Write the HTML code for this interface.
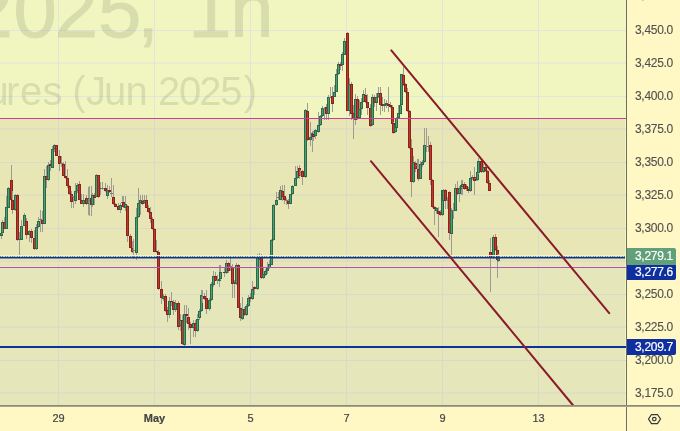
<!DOCTYPE html>
<html><head><meta charset="utf-8"><style>
html,body{margin:0;padding:0;background:#fff8c5;}
body{width:680px;height:431px;overflow:hidden;}
svg{display:block;}
</style></head><body>
<svg width="680" height="431" viewBox="0 0 680 431" shape-rendering="crispEdges" style="will-change:transform">
<rect x="0" y="0" width="680" height="431" fill="#fff8c5"/>
<rect x="0" y="0" width="626" height="405" fill="#f1f6c1"/>
<rect x="0" y="119" width="625" height="148" fill="#e8e6b4"/>
<rect x="0" y="268" width="625" height="137" fill="#e5e6ba"/>
<rect x="0" y="30" width="626" height="1" fill="#dfe6da"/>
<rect x="0" y="62" width="626" height="1" fill="#dfe6da" opacity="0.45"/>
<rect x="0" y="63" width="626" height="1" fill="#dfe6da" opacity="0.65"/>
<rect x="0" y="96" width="626" height="1" fill="#dfe6da"/>
<rect x="0" y="128" width="626" height="1" fill="#dadac8" opacity="0.45"/>
<rect x="0" y="129" width="626" height="1" fill="#dadac8" opacity="0.65"/>
<rect x="0" y="162" width="626" height="1" fill="#dadac8"/>
<rect x="0" y="194" width="626" height="1" fill="#dadac8" opacity="0.45"/>
<rect x="0" y="195" width="626" height="1" fill="#dadac8" opacity="0.65"/>
<rect x="0" y="228" width="626" height="1" fill="#dadac8"/>
<rect x="0" y="260" width="626" height="1" fill="#dadac8" opacity="0.45"/>
<rect x="0" y="261" width="626" height="1" fill="#dadac8" opacity="0.65"/>
<rect x="0" y="294" width="626" height="1" fill="#dadac8"/>
<rect x="0" y="326" width="626" height="1" fill="#dadac8" opacity="0.45"/>
<rect x="0" y="327" width="626" height="1" fill="#dadac8" opacity="0.65"/>
<rect x="0" y="360" width="626" height="1" fill="#dadac8"/>
<rect x="0" y="392" width="626" height="1" fill="#dadac8" opacity="0.45"/>
<rect x="0" y="393" width="626" height="1" fill="#dadac8" opacity="0.65"/>
<rect x="58" y="0" width="1" height="118" fill="#dfe6da"/>
<rect x="58" y="119" width="1" height="148" fill="#dadac8"/>
<rect x="58" y="268" width="1" height="137" fill="#dadac8"/>
<rect x="154" y="0" width="1" height="118" fill="#dfe6da"/>
<rect x="154" y="119" width="1" height="148" fill="#dadac8"/>
<rect x="154" y="268" width="1" height="137" fill="#dadac8"/>
<rect x="250" y="0" width="1" height="118" fill="#dfe6da"/>
<rect x="250" y="119" width="1" height="148" fill="#dadac8"/>
<rect x="250" y="268" width="1" height="137" fill="#dadac8"/>
<rect x="346" y="0" width="1" height="118" fill="#dfe6da"/>
<rect x="346" y="119" width="1" height="148" fill="#dadac8"/>
<rect x="346" y="268" width="1" height="137" fill="#dadac8"/>
<rect x="442" y="0" width="1" height="118" fill="#dfe6da"/>
<rect x="442" y="119" width="1" height="148" fill="#dadac8"/>
<rect x="442" y="268" width="1" height="137" fill="#dadac8"/>
<rect x="538" y="0" width="1" height="118" fill="#dfe6da"/>
<rect x="538" y="119" width="1" height="148" fill="#dadac8"/>
<rect x="538" y="268" width="1" height="137" fill="#dadac8"/>
<g opacity="0.27" fill="rgb(150,156,122)" font-family="Liberation Sans, sans-serif" shape-rendering="auto">
<text x="-212.5 -151.8 -95.5 -30.5 13.45 54.8 97.9 137.3 159 188.3 230.2" y="36.5" font-size="78" stroke="rgb(150,156,122)" stroke-width="0.9">GCM2025, 1h</text>
<text x="-166.8 -135.7 -113.5 -104.6 -82.4 -71.3 -46.9 -24.7 -13.6 5.94 20.1 42.6 62.6 72.3 86 103.9 125.6 147.8 158.1 179.1 199.3 220.3 243.8" y="105" font-size="40">Gold Futures (Jun 2025)</text>
</g>
<rect x="1" y="230" width="1" height="9" fill="#9c9c90"/>
<rect x="0" y="233" width="3" height="3" fill="#2a6a48"/>
<rect x="1" y="234" width="1" height="1" fill="#4f9d74"/>
<rect x="2" y="220" width="1" height="14" fill="#9c9c90"/>
<rect x="1" y="222" width="3" height="11" fill="#2a6a48"/>
<rect x="2" y="223" width="1" height="9" fill="#4f9d74"/>
<rect x="4" y="217" width="1" height="12" fill="#9c9c90"/>
<rect x="3" y="222" width="3" height="7" fill="#8c2219"/>
<rect x="4" y="223" width="1" height="5" fill="#bb3a2e"/>
<rect x="6" y="196" width="1" height="33" fill="#9c9c90"/>
<rect x="5" y="207" width="3" height="22" fill="#2a6a48"/>
<rect x="6" y="208" width="1" height="20" fill="#4f9d74"/>
<rect x="8" y="187" width="1" height="21" fill="#9c9c90"/>
<rect x="7" y="188" width="3" height="20" fill="#2a6a48"/>
<rect x="8" y="189" width="1" height="18" fill="#4f9d74"/>
<rect x="11" y="165" width="1" height="36" fill="#9c9c90"/>
<rect x="10" y="180" width="3" height="20" fill="#8c2219"/>
<rect x="11" y="181" width="1" height="18" fill="#bb3a2e"/>
<rect x="12" y="191" width="1" height="23" fill="#9c9c90"/>
<rect x="11" y="200" width="3" height="10" fill="#8c2219"/>
<rect x="12" y="201" width="1" height="8" fill="#bb3a2e"/>
<rect x="15" y="194" width="1" height="17" fill="#9c9c90"/>
<rect x="14" y="195" width="3" height="15" fill="#2a6a48"/>
<rect x="15" y="196" width="1" height="13" fill="#4f9d74"/>
<rect x="17" y="194" width="1" height="47" fill="#9c9c90"/>
<rect x="16" y="195" width="3" height="45" fill="#8c2219"/>
<rect x="17" y="196" width="1" height="43" fill="#bb3a2e"/>
<rect x="19" y="232" width="1" height="23" fill="#9c9c90"/>
<rect x="18" y="239" width="3" height="1" fill="#2a6a48"/>
<rect x="21" y="220" width="1" height="20" fill="#9c9c90"/>
<rect x="20" y="226" width="3" height="14" fill="#2a6a48"/>
<rect x="21" y="227" width="1" height="12" fill="#4f9d74"/>
<rect x="24" y="213" width="1" height="13" fill="#9c9c90"/>
<rect x="23" y="215" width="3" height="11" fill="#2a6a48"/>
<rect x="24" y="216" width="1" height="9" fill="#4f9d74"/>
<rect x="26" y="218" width="1" height="21" fill="#9c9c90"/>
<rect x="25" y="221" width="3" height="14" fill="#8c2219"/>
<rect x="26" y="222" width="1" height="12" fill="#bb3a2e"/>
<rect x="29" y="230" width="1" height="12" fill="#9c9c90"/>
<rect x="28" y="231" width="3" height="4" fill="#2a6a48"/>
<rect x="29" y="232" width="1" height="2" fill="#4f9d74"/>
<rect x="31" y="229" width="1" height="14" fill="#9c9c90"/>
<rect x="30" y="231" width="3" height="7" fill="#8c2219"/>
<rect x="31" y="232" width="1" height="5" fill="#bb3a2e"/>
<rect x="34" y="230" width="1" height="20" fill="#9c9c90"/>
<rect x="33" y="238" width="3" height="11" fill="#8c2219"/>
<rect x="34" y="239" width="1" height="9" fill="#bb3a2e"/>
<rect x="36" y="224" width="1" height="26" fill="#9c9c90"/>
<rect x="35" y="227" width="3" height="22" fill="#2a6a48"/>
<rect x="36" y="228" width="1" height="20" fill="#4f9d74"/>
<rect x="38" y="217" width="1" height="11" fill="#9c9c90"/>
<rect x="37" y="221" width="3" height="6" fill="#2a6a48"/>
<rect x="38" y="222" width="1" height="4" fill="#4f9d74"/>
<rect x="40" y="210" width="1" height="22" fill="#9c9c90"/>
<rect x="39" y="219" width="3" height="1" fill="#7a7a70"/>
<rect x="42" y="211" width="1" height="21" fill="#9c9c90"/>
<rect x="41" y="220" width="3" height="4" fill="#8c2219"/>
<rect x="42" y="221" width="1" height="2" fill="#bb3a2e"/>
<rect x="44" y="169" width="1" height="55" fill="#9c9c90"/>
<rect x="43" y="176" width="3" height="48" fill="#2a6a48"/>
<rect x="44" y="177" width="1" height="46" fill="#4f9d74"/>
<rect x="46" y="166" width="1" height="22" fill="#9c9c90"/>
<rect x="45" y="176" width="3" height="4" fill="#8c2219"/>
<rect x="46" y="177" width="1" height="2" fill="#bb3a2e"/>
<rect x="48" y="162" width="1" height="19" fill="#9c9c90"/>
<rect x="47" y="165" width="3" height="15" fill="#2a6a48"/>
<rect x="48" y="166" width="1" height="13" fill="#4f9d74"/>
<rect x="50" y="160" width="1" height="11" fill="#9c9c90"/>
<rect x="49" y="164" width="3" height="2" fill="#8c2219"/>
<rect x="52" y="146" width="1" height="22" fill="#9c9c90"/>
<rect x="51" y="149" width="3" height="19" fill="#2a6a48"/>
<rect x="52" y="150" width="1" height="17" fill="#4f9d74"/>
<rect x="54" y="144" width="1" height="8" fill="#9c9c90"/>
<rect x="53" y="145" width="3" height="4" fill="#2a6a48"/>
<rect x="54" y="146" width="1" height="2" fill="#4f9d74"/>
<rect x="56" y="145" width="1" height="11" fill="#9c9c90"/>
<rect x="55" y="145" width="3" height="11" fill="#8c2219"/>
<rect x="56" y="146" width="1" height="9" fill="#bb3a2e"/>
<rect x="59" y="150" width="1" height="21" fill="#9c9c90"/>
<rect x="58" y="156" width="3" height="8" fill="#8c2219"/>
<rect x="59" y="157" width="1" height="6" fill="#bb3a2e"/>
<rect x="61" y="156" width="1" height="11" fill="#9c9c90"/>
<rect x="60" y="163" width="3" height="1" fill="#7a7a70"/>
<rect x="63" y="162" width="1" height="14" fill="#9c9c90"/>
<rect x="62" y="164" width="3" height="12" fill="#8c2219"/>
<rect x="63" y="165" width="1" height="10" fill="#bb3a2e"/>
<rect x="65" y="161" width="1" height="18" fill="#9c9c90"/>
<rect x="64" y="176" width="3" height="2" fill="#8c2219"/>
<rect x="67" y="169" width="1" height="19" fill="#9c9c90"/>
<rect x="66" y="178" width="3" height="8" fill="#8c2219"/>
<rect x="67" y="179" width="1" height="6" fill="#bb3a2e"/>
<rect x="69" y="185" width="1" height="10" fill="#9c9c90"/>
<rect x="68" y="186" width="3" height="8" fill="#8c2219"/>
<rect x="69" y="187" width="1" height="6" fill="#bb3a2e"/>
<rect x="71" y="191" width="1" height="17" fill="#9c9c90"/>
<rect x="70" y="194" width="3" height="8" fill="#8c2219"/>
<rect x="71" y="195" width="1" height="6" fill="#bb3a2e"/>
<rect x="73" y="196" width="1" height="12" fill="#9c9c90"/>
<rect x="72" y="196" width="3" height="1" fill="#7a7a70"/>
<rect x="75" y="183" width="1" height="21" fill="#9c9c90"/>
<rect x="74" y="191" width="3" height="10" fill="#2a6a48"/>
<rect x="75" y="192" width="1" height="8" fill="#4f9d74"/>
<rect x="77" y="183" width="1" height="10" fill="#9c9c90"/>
<rect x="76" y="185" width="3" height="6" fill="#2a6a48"/>
<rect x="77" y="186" width="1" height="4" fill="#4f9d74"/>
<rect x="79" y="181" width="1" height="19" fill="#9c9c90"/>
<rect x="78" y="184" width="3" height="16" fill="#8c2219"/>
<rect x="79" y="185" width="1" height="14" fill="#bb3a2e"/>
<rect x="81" y="194" width="1" height="10" fill="#9c9c90"/>
<rect x="80" y="200" width="3" height="4" fill="#8c2219"/>
<rect x="81" y="201" width="1" height="2" fill="#bb3a2e"/>
<rect x="83" y="194" width="1" height="13" fill="#9c9c90"/>
<rect x="82" y="200" width="3" height="4" fill="#2a6a48"/>
<rect x="83" y="201" width="1" height="2" fill="#4f9d74"/>
<rect x="86" y="195" width="1" height="10" fill="#9c9c90"/>
<rect x="85" y="198" width="3" height="6" fill="#8c2219"/>
<rect x="86" y="199" width="1" height="4" fill="#bb3a2e"/>
<rect x="88" y="187" width="1" height="28" fill="#9c9c90"/>
<rect x="87" y="198" width="3" height="6" fill="#2a6a48"/>
<rect x="88" y="199" width="1" height="4" fill="#4f9d74"/>
<rect x="89" y="186" width="1" height="30" fill="#9c9c90"/>
<rect x="88" y="200" width="3" height="1" fill="#7a7a70"/>
<rect x="91" y="186" width="1" height="30" fill="#9c9c90"/>
<rect x="90" y="198" width="3" height="7" fill="#8c2219"/>
<rect x="91" y="199" width="1" height="5" fill="#bb3a2e"/>
<rect x="92" y="193" width="1" height="14" fill="#9c9c90"/>
<rect x="91" y="195" width="3" height="10" fill="#2a6a48"/>
<rect x="92" y="196" width="1" height="8" fill="#4f9d74"/>
<rect x="94" y="193" width="1" height="12" fill="#9c9c90"/>
<rect x="93" y="195" width="3" height="3" fill="#8c2219"/>
<rect x="94" y="196" width="1" height="1" fill="#bb3a2e"/>
<rect x="96" y="174" width="1" height="23" fill="#9c9c90"/>
<rect x="95" y="175" width="3" height="22" fill="#2a6a48"/>
<rect x="96" y="176" width="1" height="20" fill="#4f9d74"/>
<rect x="98" y="175" width="1" height="23" fill="#9c9c90"/>
<rect x="97" y="175" width="3" height="22" fill="#8c2219"/>
<rect x="98" y="176" width="1" height="20" fill="#bb3a2e"/>
<rect x="100" y="182" width="1" height="13" fill="#9c9c90"/>
<rect x="99" y="188" width="3" height="1" fill="#2a6a48"/>
<rect x="102" y="182" width="1" height="8" fill="#9c9c90"/>
<rect x="101" y="188" width="3" height="1" fill="#7a7a70"/>
<rect x="105" y="183" width="1" height="9" fill="#9c9c90"/>
<rect x="104" y="188" width="3" height="3" fill="#8c2219"/>
<rect x="105" y="189" width="1" height="1" fill="#bb3a2e"/>
<rect x="107" y="185" width="1" height="14" fill="#9c9c90"/>
<rect x="106" y="190" width="3" height="6" fill="#2a6a48"/>
<rect x="107" y="191" width="1" height="4" fill="#4f9d74"/>
<rect x="109" y="186" width="1" height="7" fill="#9c9c90"/>
<rect x="108" y="190" width="3" height="2" fill="#8c2219"/>
<rect x="111" y="178" width="1" height="19" fill="#9c9c90"/>
<rect x="110" y="193" width="3" height="1" fill="#7a7a70"/>
<rect x="113" y="185" width="1" height="20" fill="#9c9c90"/>
<rect x="112" y="197" width="3" height="7" fill="#8c2219"/>
<rect x="113" y="198" width="1" height="5" fill="#bb3a2e"/>
<rect x="115" y="203" width="1" height="4" fill="#9c9c90"/>
<rect x="114" y="204" width="3" height="3" fill="#8c2219"/>
<rect x="115" y="205" width="1" height="1" fill="#bb3a2e"/>
<rect x="118" y="203" width="1" height="7" fill="#9c9c90"/>
<rect x="117" y="206" width="3" height="4" fill="#8c2219"/>
<rect x="118" y="207" width="1" height="2" fill="#bb3a2e"/>
<rect x="120" y="203" width="1" height="10" fill="#9c9c90"/>
<rect x="119" y="205" width="3" height="5" fill="#2a6a48"/>
<rect x="120" y="206" width="1" height="3" fill="#4f9d74"/>
<rect x="122" y="196" width="1" height="8" fill="#9c9c90"/>
<rect x="121" y="202" width="3" height="1" fill="#7a7a70"/>
<rect x="123" y="196" width="1" height="12" fill="#9c9c90"/>
<rect x="122" y="202" width="3" height="5" fill="#8c2219"/>
<rect x="123" y="203" width="1" height="3" fill="#bb3a2e"/>
<rect x="125" y="196" width="1" height="15" fill="#9c9c90"/>
<rect x="124" y="204" width="3" height="4" fill="#2a6a48"/>
<rect x="125" y="205" width="1" height="2" fill="#4f9d74"/>
<rect x="127" y="205" width="1" height="37" fill="#9c9c90"/>
<rect x="126" y="206" width="3" height="30" fill="#8c2219"/>
<rect x="127" y="207" width="1" height="28" fill="#bb3a2e"/>
<rect x="130" y="234" width="1" height="14" fill="#9c9c90"/>
<rect x="129" y="236" width="3" height="12" fill="#8c2219"/>
<rect x="130" y="237" width="1" height="10" fill="#bb3a2e"/>
<rect x="132" y="241" width="1" height="12" fill="#9c9c90"/>
<rect x="131" y="248" width="3" height="4" fill="#8c2219"/>
<rect x="132" y="249" width="1" height="2" fill="#bb3a2e"/>
<rect x="133" y="239" width="1" height="20" fill="#9c9c90"/>
<rect x="132" y="250" width="3" height="1" fill="#7a7a70"/>
<rect x="136" y="208" width="1" height="52" fill="#9c9c90"/>
<rect x="135" y="217" width="3" height="36" fill="#2a6a48"/>
<rect x="136" y="218" width="1" height="34" fill="#4f9d74"/>
<rect x="138" y="188" width="1" height="30" fill="#9c9c90"/>
<rect x="137" y="203" width="3" height="14" fill="#2a6a48"/>
<rect x="138" y="204" width="1" height="12" fill="#4f9d74"/>
<rect x="140" y="195" width="1" height="20" fill="#9c9c90"/>
<rect x="139" y="200" width="3" height="3" fill="#2a6a48"/>
<rect x="140" y="201" width="1" height="1" fill="#4f9d74"/>
<rect x="142" y="195" width="1" height="10" fill="#9c9c90"/>
<rect x="141" y="201" width="3" height="3" fill="#8c2219"/>
<rect x="142" y="202" width="1" height="1" fill="#bb3a2e"/>
<rect x="144" y="195" width="1" height="9" fill="#9c9c90"/>
<rect x="143" y="200" width="3" height="3" fill="#2a6a48"/>
<rect x="144" y="201" width="1" height="1" fill="#4f9d74"/>
<rect x="146" y="195" width="1" height="13" fill="#9c9c90"/>
<rect x="145" y="200" width="3" height="8" fill="#8c2219"/>
<rect x="146" y="201" width="1" height="6" fill="#bb3a2e"/>
<rect x="148" y="205" width="1" height="8" fill="#9c9c90"/>
<rect x="147" y="208" width="3" height="4" fill="#8c2219"/>
<rect x="148" y="209" width="1" height="2" fill="#bb3a2e"/>
<rect x="150" y="207" width="1" height="16" fill="#9c9c90"/>
<rect x="149" y="212" width="3" height="7" fill="#8c2219"/>
<rect x="150" y="213" width="1" height="5" fill="#bb3a2e"/>
<rect x="152" y="217" width="1" height="13" fill="#9c9c90"/>
<rect x="151" y="219" width="3" height="10" fill="#8c2219"/>
<rect x="152" y="220" width="1" height="8" fill="#bb3a2e"/>
<rect x="154" y="228" width="1" height="24" fill="#9c9c90"/>
<rect x="153" y="229" width="3" height="23" fill="#8c2219"/>
<rect x="154" y="230" width="1" height="21" fill="#bb3a2e"/>
<rect x="156" y="240" width="1" height="13" fill="#9c9c90"/>
<rect x="155" y="251" width="3" height="1" fill="#8c2219"/>
<rect x="158" y="250" width="1" height="40" fill="#9c9c90"/>
<rect x="157" y="252" width="3" height="37" fill="#8c2219"/>
<rect x="158" y="253" width="1" height="35" fill="#bb3a2e"/>
<rect x="161" y="281" width="1" height="23" fill="#9c9c90"/>
<rect x="160" y="289" width="3" height="9" fill="#8c2219"/>
<rect x="161" y="290" width="1" height="7" fill="#bb3a2e"/>
<rect x="163" y="294" width="1" height="7" fill="#9c9c90"/>
<rect x="162" y="296" width="3" height="3" fill="#2a6a48"/>
<rect x="163" y="297" width="1" height="1" fill="#4f9d74"/>
<rect x="165" y="294" width="1" height="18" fill="#9c9c90"/>
<rect x="164" y="296" width="3" height="15" fill="#8c2219"/>
<rect x="165" y="297" width="1" height="13" fill="#bb3a2e"/>
<rect x="167" y="307" width="1" height="15" fill="#9c9c90"/>
<rect x="166" y="310" width="3" height="5" fill="#8c2219"/>
<rect x="167" y="311" width="1" height="3" fill="#bb3a2e"/>
<rect x="169" y="297" width="1" height="21" fill="#9c9c90"/>
<rect x="168" y="301" width="3" height="14" fill="#2a6a48"/>
<rect x="169" y="302" width="1" height="12" fill="#4f9d74"/>
<rect x="171" y="292" width="1" height="14" fill="#9c9c90"/>
<rect x="170" y="301" width="3" height="1" fill="#8c2219"/>
<rect x="173" y="300" width="1" height="15" fill="#9c9c90"/>
<rect x="172" y="302" width="3" height="8" fill="#8c2219"/>
<rect x="173" y="303" width="1" height="6" fill="#bb3a2e"/>
<rect x="175" y="300" width="1" height="12" fill="#9c9c90"/>
<rect x="174" y="303" width="3" height="7" fill="#2a6a48"/>
<rect x="175" y="304" width="1" height="5" fill="#4f9d74"/>
<rect x="178" y="301" width="1" height="29" fill="#9c9c90"/>
<rect x="177" y="303" width="3" height="24" fill="#8c2219"/>
<rect x="178" y="304" width="1" height="22" fill="#bb3a2e"/>
<rect x="180" y="314" width="1" height="17" fill="#9c9c90"/>
<rect x="179" y="320" width="3" height="6" fill="#2a6a48"/>
<rect x="180" y="321" width="1" height="4" fill="#4f9d74"/>
<rect x="182" y="315" width="1" height="30" fill="#9c9c90"/>
<rect x="181" y="320" width="3" height="24" fill="#8c2219"/>
<rect x="182" y="321" width="1" height="22" fill="#bb3a2e"/>
<rect x="184" y="305" width="1" height="41" fill="#9c9c90"/>
<rect x="183" y="314" width="3" height="31" fill="#2a6a48"/>
<rect x="184" y="315" width="1" height="29" fill="#4f9d74"/>
<rect x="186" y="305" width="1" height="18" fill="#9c9c90"/>
<rect x="185" y="314" width="3" height="2" fill="#8c2219"/>
<rect x="188" y="308" width="1" height="22" fill="#9c9c90"/>
<rect x="187" y="317" width="3" height="7" fill="#8c2219"/>
<rect x="188" y="318" width="1" height="5" fill="#bb3a2e"/>
<rect x="190" y="322" width="1" height="22" fill="#9c9c90"/>
<rect x="189" y="324" width="3" height="4" fill="#8c2219"/>
<rect x="190" y="325" width="1" height="2" fill="#bb3a2e"/>
<rect x="193" y="320" width="1" height="17" fill="#9c9c90"/>
<rect x="192" y="323" width="3" height="5" fill="#2a6a48"/>
<rect x="193" y="324" width="1" height="3" fill="#4f9d74"/>
<rect x="195" y="320" width="1" height="17" fill="#9c9c90"/>
<rect x="194" y="323" width="3" height="8" fill="#8c2219"/>
<rect x="195" y="324" width="1" height="6" fill="#bb3a2e"/>
<rect x="197" y="314" width="1" height="18" fill="#9c9c90"/>
<rect x="196" y="319" width="3" height="12" fill="#2a6a48"/>
<rect x="197" y="320" width="1" height="10" fill="#4f9d74"/>
<rect x="199" y="309" width="1" height="11" fill="#9c9c90"/>
<rect x="198" y="311" width="3" height="7" fill="#2a6a48"/>
<rect x="199" y="312" width="1" height="5" fill="#4f9d74"/>
<rect x="201" y="290" width="1" height="22" fill="#9c9c90"/>
<rect x="200" y="295" width="3" height="16" fill="#2a6a48"/>
<rect x="201" y="296" width="1" height="14" fill="#4f9d74"/>
<rect x="202" y="290" width="1" height="13" fill="#9c9c90"/>
<rect x="201" y="296" width="3" height="1" fill="#7a7a70"/>
<rect x="204" y="293" width="1" height="7" fill="#9c9c90"/>
<rect x="203" y="296" width="3" height="3" fill="#8c2219"/>
<rect x="204" y="297" width="1" height="1" fill="#bb3a2e"/>
<rect x="206" y="290" width="1" height="24" fill="#9c9c90"/>
<rect x="205" y="298" width="3" height="11" fill="#8c2219"/>
<rect x="206" y="299" width="1" height="9" fill="#bb3a2e"/>
<rect x="209" y="298" width="1" height="13" fill="#9c9c90"/>
<rect x="208" y="300" width="3" height="9" fill="#2a6a48"/>
<rect x="209" y="301" width="1" height="7" fill="#4f9d74"/>
<rect x="211" y="282" width="1" height="19" fill="#9c9c90"/>
<rect x="210" y="284" width="3" height="16" fill="#2a6a48"/>
<rect x="211" y="285" width="1" height="14" fill="#4f9d74"/>
<rect x="213" y="271" width="1" height="16" fill="#9c9c90"/>
<rect x="212" y="276" width="3" height="9" fill="#2a6a48"/>
<rect x="213" y="277" width="1" height="7" fill="#4f9d74"/>
<rect x="215" y="272" width="1" height="9" fill="#9c9c90"/>
<rect x="214" y="276" width="3" height="5" fill="#8c2219"/>
<rect x="215" y="277" width="1" height="3" fill="#bb3a2e"/>
<rect x="217" y="275" width="1" height="9" fill="#9c9c90"/>
<rect x="216" y="280" width="3" height="1" fill="#7a7a70"/>
<rect x="219" y="265" width="1" height="22" fill="#9c9c90"/>
<rect x="218" y="279" width="3" height="2" fill="#2a6a48"/>
<rect x="220" y="265" width="1" height="15" fill="#9c9c90"/>
<rect x="219" y="272" width="3" height="7" fill="#2a6a48"/>
<rect x="220" y="273" width="1" height="5" fill="#4f9d74"/>
<rect x="224" y="267" width="1" height="10" fill="#9c9c90"/>
<rect x="223" y="272" width="3" height="1" fill="#8c2219"/>
<rect x="226" y="260" width="1" height="14" fill="#9c9c90"/>
<rect x="225" y="263" width="3" height="10" fill="#2a6a48"/>
<rect x="226" y="264" width="1" height="8" fill="#4f9d74"/>
<rect x="228" y="262" width="1" height="11" fill="#9c9c90"/>
<rect x="227" y="263" width="3" height="8" fill="#8c2219"/>
<rect x="228" y="264" width="1" height="6" fill="#bb3a2e"/>
<rect x="230" y="258" width="1" height="13" fill="#9c9c90"/>
<rect x="229" y="266" width="3" height="1" fill="#7a7a70"/>
<rect x="232" y="264" width="1" height="34" fill="#9c9c90"/>
<rect x="231" y="267" width="3" height="17" fill="#8c2219"/>
<rect x="232" y="268" width="1" height="15" fill="#bb3a2e"/>
<rect x="234" y="280" width="1" height="18" fill="#9c9c90"/>
<rect x="233" y="282" width="3" height="2" fill="#2a6a48"/>
<rect x="236" y="263" width="1" height="22" fill="#9c9c90"/>
<rect x="235" y="265" width="3" height="19" fill="#2a6a48"/>
<rect x="236" y="266" width="1" height="17" fill="#4f9d74"/>
<rect x="238" y="264" width="1" height="44" fill="#9c9c90"/>
<rect x="237" y="265" width="3" height="43" fill="#8c2219"/>
<rect x="238" y="266" width="1" height="41" fill="#bb3a2e"/>
<rect x="240" y="303" width="1" height="18" fill="#9c9c90"/>
<rect x="239" y="308" width="3" height="10" fill="#8c2219"/>
<rect x="240" y="309" width="1" height="8" fill="#bb3a2e"/>
<rect x="242" y="297" width="1" height="23" fill="#9c9c90"/>
<rect x="241" y="309" width="3" height="10" fill="#2a6a48"/>
<rect x="242" y="310" width="1" height="8" fill="#4f9d74"/>
<rect x="244" y="307" width="1" height="9" fill="#9c9c90"/>
<rect x="243" y="309" width="3" height="6" fill="#8c2219"/>
<rect x="244" y="310" width="1" height="4" fill="#bb3a2e"/>
<rect x="246" y="304" width="1" height="12" fill="#9c9c90"/>
<rect x="245" y="306" width="3" height="9" fill="#2a6a48"/>
<rect x="246" y="307" width="1" height="7" fill="#4f9d74"/>
<rect x="248" y="295" width="1" height="12" fill="#9c9c90"/>
<rect x="247" y="298" width="3" height="8" fill="#2a6a48"/>
<rect x="248" y="299" width="1" height="6" fill="#4f9d74"/>
<rect x="250" y="293" width="1" height="9" fill="#9c9c90"/>
<rect x="249" y="297" width="3" height="2" fill="#8c2219"/>
<rect x="252" y="281" width="1" height="19" fill="#9c9c90"/>
<rect x="251" y="289" width="3" height="10" fill="#2a6a48"/>
<rect x="252" y="290" width="1" height="8" fill="#4f9d74"/>
<rect x="254" y="286" width="1" height="9" fill="#9c9c90"/>
<rect x="253" y="287" width="3" height="2" fill="#8c2219"/>
<rect x="257" y="254" width="1" height="36" fill="#9c9c90"/>
<rect x="256" y="257" width="3" height="32" fill="#2a6a48"/>
<rect x="257" y="258" width="1" height="30" fill="#4f9d74"/>
<rect x="259" y="253" width="1" height="15" fill="#9c9c90"/>
<rect x="258" y="257" width="3" height="3" fill="#2a6a48"/>
<rect x="259" y="258" width="1" height="1" fill="#4f9d74"/>
<rect x="261" y="254" width="1" height="25" fill="#9c9c90"/>
<rect x="260" y="257" width="3" height="21" fill="#8c2219"/>
<rect x="261" y="258" width="1" height="19" fill="#bb3a2e"/>
<rect x="263" y="268" width="1" height="11" fill="#9c9c90"/>
<rect x="262" y="274" width="3" height="4" fill="#2a6a48"/>
<rect x="263" y="275" width="1" height="2" fill="#4f9d74"/>
<rect x="265" y="269" width="1" height="7" fill="#9c9c90"/>
<rect x="264" y="271" width="3" height="4" fill="#2a6a48"/>
<rect x="265" y="272" width="1" height="2" fill="#4f9d74"/>
<rect x="267" y="262" width="1" height="12" fill="#9c9c90"/>
<rect x="266" y="268" width="3" height="3" fill="#2a6a48"/>
<rect x="267" y="269" width="1" height="1" fill="#4f9d74"/>
<rect x="269" y="260" width="1" height="9" fill="#9c9c90"/>
<rect x="268" y="264" width="3" height="4" fill="#2a6a48"/>
<rect x="269" y="265" width="1" height="2" fill="#4f9d74"/>
<rect x="271" y="239" width="1" height="26" fill="#9c9c90"/>
<rect x="270" y="240" width="3" height="25" fill="#2a6a48"/>
<rect x="271" y="241" width="1" height="23" fill="#4f9d74"/>
<rect x="273" y="204" width="1" height="37" fill="#9c9c90"/>
<rect x="272" y="205" width="3" height="35" fill="#2a6a48"/>
<rect x="273" y="206" width="1" height="33" fill="#4f9d74"/>
<rect x="276" y="192" width="1" height="14" fill="#9c9c90"/>
<rect x="275" y="200" width="3" height="5" fill="#2a6a48"/>
<rect x="276" y="201" width="1" height="3" fill="#4f9d74"/>
<rect x="278" y="192" width="1" height="8" fill="#9c9c90"/>
<rect x="277" y="197" width="3" height="1" fill="#7a7a70"/>
<rect x="280" y="186" width="1" height="14" fill="#9c9c90"/>
<rect x="279" y="190" width="3" height="10" fill="#2a6a48"/>
<rect x="280" y="191" width="1" height="8" fill="#4f9d74"/>
<rect x="282" y="185" width="1" height="16" fill="#9c9c90"/>
<rect x="281" y="191" width="3" height="6" fill="#8c2219"/>
<rect x="282" y="192" width="1" height="4" fill="#bb3a2e"/>
<rect x="284" y="185" width="1" height="19" fill="#9c9c90"/>
<rect x="283" y="196" width="3" height="4" fill="#8c2219"/>
<rect x="284" y="197" width="1" height="2" fill="#bb3a2e"/>
<rect x="286" y="198" width="1" height="7" fill="#9c9c90"/>
<rect x="285" y="200" width="3" height="1" fill="#7a7a70"/>
<rect x="288" y="199" width="1" height="10" fill="#9c9c90"/>
<rect x="287" y="201" width="3" height="3" fill="#8c2219"/>
<rect x="288" y="202" width="1" height="1" fill="#bb3a2e"/>
<rect x="290" y="194" width="1" height="10" fill="#9c9c90"/>
<rect x="289" y="194" width="3" height="10" fill="#2a6a48"/>
<rect x="290" y="195" width="1" height="8" fill="#4f9d74"/>
<rect x="292" y="185" width="1" height="10" fill="#9c9c90"/>
<rect x="291" y="186" width="3" height="8" fill="#2a6a48"/>
<rect x="292" y="187" width="1" height="6" fill="#4f9d74"/>
<rect x="295" y="166" width="1" height="20" fill="#9c9c90"/>
<rect x="294" y="178" width="3" height="8" fill="#2a6a48"/>
<rect x="295" y="179" width="1" height="6" fill="#4f9d74"/>
<rect x="297" y="166" width="1" height="13" fill="#9c9c90"/>
<rect x="296" y="171" width="3" height="7" fill="#2a6a48"/>
<rect x="297" y="172" width="1" height="5" fill="#4f9d74"/>
<rect x="299" y="165" width="1" height="14" fill="#9c9c90"/>
<rect x="298" y="168" width="3" height="8" fill="#8c2219"/>
<rect x="299" y="169" width="1" height="6" fill="#bb3a2e"/>
<rect x="300" y="170" width="1" height="6" fill="#9c9c90"/>
<rect x="299" y="172" width="3" height="1" fill="#7a7a70"/>
<rect x="302" y="170" width="1" height="15" fill="#9c9c90"/>
<rect x="301" y="171" width="3" height="6" fill="#8c2219"/>
<rect x="302" y="172" width="1" height="4" fill="#bb3a2e"/>
<rect x="305" y="109" width="1" height="69" fill="#9c9c90"/>
<rect x="304" y="110" width="3" height="67" fill="#2a6a48"/>
<rect x="305" y="111" width="1" height="65" fill="#4f9d74"/>
<rect x="307" y="103" width="1" height="38" fill="#9c9c90"/>
<rect x="306" y="111" width="3" height="29" fill="#8c2219"/>
<rect x="307" y="112" width="1" height="27" fill="#bb3a2e"/>
<rect x="310" y="122" width="1" height="24" fill="#9c9c90"/>
<rect x="309" y="137" width="3" height="3" fill="#2a6a48"/>
<rect x="310" y="138" width="1" height="1" fill="#4f9d74"/>
<rect x="312" y="131" width="1" height="21" fill="#9c9c90"/>
<rect x="311" y="133" width="3" height="4" fill="#2a6a48"/>
<rect x="312" y="134" width="1" height="2" fill="#4f9d74"/>
<rect x="313" y="131" width="1" height="10" fill="#9c9c90"/>
<rect x="312" y="134" width="3" height="3" fill="#8c2219"/>
<rect x="313" y="135" width="1" height="1" fill="#bb3a2e"/>
<rect x="315" y="129" width="1" height="10" fill="#9c9c90"/>
<rect x="314" y="130" width="3" height="6" fill="#2a6a48"/>
<rect x="315" y="131" width="1" height="4" fill="#4f9d74"/>
<rect x="318" y="112" width="1" height="21" fill="#9c9c90"/>
<rect x="317" y="125" width="3" height="7" fill="#2a6a48"/>
<rect x="318" y="126" width="1" height="5" fill="#4f9d74"/>
<rect x="320" y="115" width="1" height="11" fill="#9c9c90"/>
<rect x="319" y="116" width="3" height="9" fill="#2a6a48"/>
<rect x="320" y="117" width="1" height="7" fill="#4f9d74"/>
<rect x="322" y="106" width="1" height="11" fill="#9c9c90"/>
<rect x="321" y="108" width="3" height="8" fill="#2a6a48"/>
<rect x="322" y="109" width="1" height="6" fill="#4f9d74"/>
<rect x="324" y="107" width="1" height="13" fill="#9c9c90"/>
<rect x="323" y="108" width="3" height="1" fill="#7a7a70"/>
<rect x="326" y="104" width="1" height="16" fill="#9c9c90"/>
<rect x="325" y="107" width="3" height="7" fill="#8c2219"/>
<rect x="326" y="108" width="1" height="5" fill="#bb3a2e"/>
<rect x="328" y="95" width="1" height="25" fill="#9c9c90"/>
<rect x="327" y="97" width="3" height="17" fill="#2a6a48"/>
<rect x="328" y="98" width="1" height="15" fill="#4f9d74"/>
<rect x="330" y="87" width="1" height="11" fill="#9c9c90"/>
<rect x="329" y="97" width="3" height="1" fill="#7a7a70"/>
<rect x="332" y="87" width="1" height="25" fill="#9c9c90"/>
<rect x="331" y="96" width="3" height="8" fill="#8c2219"/>
<rect x="332" y="97" width="1" height="6" fill="#bb3a2e"/>
<rect x="334" y="85" width="1" height="12" fill="#9c9c90"/>
<rect x="333" y="92" width="3" height="5" fill="#2a6a48"/>
<rect x="334" y="93" width="1" height="3" fill="#4f9d74"/>
<rect x="336" y="69" width="1" height="23" fill="#9c9c90"/>
<rect x="335" y="74" width="3" height="18" fill="#2a6a48"/>
<rect x="336" y="75" width="1" height="16" fill="#4f9d74"/>
<rect x="338" y="62" width="1" height="13" fill="#9c9c90"/>
<rect x="337" y="64" width="3" height="10" fill="#2a6a48"/>
<rect x="338" y="65" width="1" height="8" fill="#4f9d74"/>
<rect x="340" y="62" width="1" height="8" fill="#9c9c90"/>
<rect x="339" y="64" width="3" height="2" fill="#8c2219"/>
<rect x="342" y="52" width="1" height="19" fill="#9c9c90"/>
<rect x="341" y="54" width="3" height="11" fill="#2a6a48"/>
<rect x="342" y="55" width="1" height="9" fill="#4f9d74"/>
<rect x="344" y="38" width="1" height="17" fill="#9c9c90"/>
<rect x="343" y="41" width="3" height="14" fill="#2a6a48"/>
<rect x="344" y="42" width="1" height="12" fill="#4f9d74"/>
<rect x="347" y="32" width="1" height="79" fill="#9c9c90"/>
<rect x="346" y="33" width="3" height="78" fill="#8c2219"/>
<rect x="347" y="34" width="1" height="76" fill="#bb3a2e"/>
<rect x="349" y="78" width="1" height="38" fill="#9c9c90"/>
<rect x="348" y="84" width="3" height="27" fill="#2a6a48"/>
<rect x="349" y="85" width="1" height="25" fill="#4f9d74"/>
<rect x="351" y="82" width="1" height="38" fill="#9c9c90"/>
<rect x="350" y="84" width="3" height="30" fill="#8c2219"/>
<rect x="351" y="85" width="1" height="28" fill="#bb3a2e"/>
<rect x="353" y="105" width="1" height="34" fill="#9c9c90"/>
<rect x="352" y="113" width="3" height="6" fill="#8c2219"/>
<rect x="353" y="114" width="1" height="4" fill="#bb3a2e"/>
<rect x="355" y="94" width="1" height="31" fill="#9c9c90"/>
<rect x="354" y="99" width="3" height="21" fill="#2a6a48"/>
<rect x="355" y="100" width="1" height="19" fill="#4f9d74"/>
<rect x="357" y="96" width="1" height="24" fill="#9c9c90"/>
<rect x="356" y="99" width="3" height="19" fill="#8c2219"/>
<rect x="357" y="100" width="1" height="17" fill="#bb3a2e"/>
<rect x="359" y="100" width="1" height="19" fill="#9c9c90"/>
<rect x="358" y="109" width="3" height="9" fill="#2a6a48"/>
<rect x="359" y="110" width="1" height="7" fill="#4f9d74"/>
<rect x="361" y="98" width="1" height="17" fill="#9c9c90"/>
<rect x="360" y="102" width="3" height="7" fill="#2a6a48"/>
<rect x="361" y="103" width="1" height="5" fill="#4f9d74"/>
<rect x="363" y="90" width="1" height="12" fill="#9c9c90"/>
<rect x="362" y="94" width="3" height="8" fill="#2a6a48"/>
<rect x="363" y="95" width="1" height="6" fill="#4f9d74"/>
<rect x="365" y="88" width="1" height="15" fill="#9c9c90"/>
<rect x="364" y="95" width="3" height="7" fill="#8c2219"/>
<rect x="365" y="96" width="1" height="5" fill="#bb3a2e"/>
<rect x="367" y="94" width="1" height="21" fill="#9c9c90"/>
<rect x="366" y="102" width="3" height="6" fill="#8c2219"/>
<rect x="367" y="103" width="1" height="4" fill="#bb3a2e"/>
<rect x="370" y="104" width="1" height="23" fill="#9c9c90"/>
<rect x="369" y="108" width="3" height="18" fill="#8c2219"/>
<rect x="370" y="109" width="1" height="16" fill="#bb3a2e"/>
<rect x="372" y="94" width="1" height="32" fill="#9c9c90"/>
<rect x="371" y="97" width="3" height="28" fill="#2a6a48"/>
<rect x="372" y="98" width="1" height="26" fill="#4f9d74"/>
<rect x="374" y="95" width="1" height="12" fill="#9c9c90"/>
<rect x="373" y="97" width="3" height="6" fill="#8c2219"/>
<rect x="374" y="98" width="1" height="4" fill="#bb3a2e"/>
<rect x="376" y="93" width="1" height="18" fill="#9c9c90"/>
<rect x="375" y="97" width="3" height="6" fill="#2a6a48"/>
<rect x="376" y="98" width="1" height="4" fill="#4f9d74"/>
<rect x="378" y="87" width="1" height="11" fill="#9c9c90"/>
<rect x="377" y="93" width="3" height="4" fill="#2a6a48"/>
<rect x="378" y="94" width="1" height="2" fill="#4f9d74"/>
<rect x="380" y="87" width="1" height="28" fill="#9c9c90"/>
<rect x="379" y="93" width="3" height="12" fill="#8c2219"/>
<rect x="380" y="94" width="1" height="10" fill="#bb3a2e"/>
<rect x="382" y="97" width="1" height="14" fill="#9c9c90"/>
<rect x="381" y="104" width="3" height="2" fill="#8c2219"/>
<rect x="384" y="99" width="1" height="13" fill="#9c9c90"/>
<rect x="383" y="104" width="3" height="2" fill="#2a6a48"/>
<rect x="386" y="100" width="1" height="8" fill="#9c9c90"/>
<rect x="385" y="103" width="3" height="2" fill="#2a6a48"/>
<rect x="388" y="87" width="1" height="25" fill="#9c9c90"/>
<rect x="387" y="104" width="3" height="2" fill="#8c2219"/>
<rect x="390" y="102" width="1" height="6" fill="#9c9c90"/>
<rect x="389" y="105" width="3" height="2" fill="#8c2219"/>
<rect x="392" y="105" width="1" height="19" fill="#9c9c90"/>
<rect x="391" y="107" width="3" height="17" fill="#8c2219"/>
<rect x="392" y="108" width="1" height="15" fill="#bb3a2e"/>
<rect x="393" y="122" width="1" height="12" fill="#9c9c90"/>
<rect x="392" y="123" width="3" height="10" fill="#8c2219"/>
<rect x="393" y="124" width="1" height="8" fill="#bb3a2e"/>
<rect x="395" y="124" width="1" height="9" fill="#9c9c90"/>
<rect x="394" y="125" width="3" height="7" fill="#2a6a48"/>
<rect x="395" y="126" width="1" height="5" fill="#4f9d74"/>
<rect x="396" y="117" width="1" height="11" fill="#9c9c90"/>
<rect x="395" y="118" width="3" height="10" fill="#2a6a48"/>
<rect x="396" y="119" width="1" height="8" fill="#4f9d74"/>
<rect x="398" y="105" width="1" height="14" fill="#9c9c90"/>
<rect x="397" y="113" width="3" height="5" fill="#2a6a48"/>
<rect x="398" y="114" width="1" height="3" fill="#4f9d74"/>
<rect x="400" y="104" width="1" height="10" fill="#9c9c90"/>
<rect x="399" y="105" width="3" height="9" fill="#2a6a48"/>
<rect x="400" y="106" width="1" height="7" fill="#4f9d74"/>
<rect x="401" y="74" width="1" height="32" fill="#9c9c90"/>
<rect x="400" y="74" width="3" height="31" fill="#2a6a48"/>
<rect x="401" y="75" width="1" height="29" fill="#4f9d74"/>
<rect x="403" y="67" width="1" height="19" fill="#9c9c90"/>
<rect x="402" y="75" width="3" height="10" fill="#8c2219"/>
<rect x="403" y="76" width="1" height="8" fill="#bb3a2e"/>
<rect x="405" y="83" width="1" height="10" fill="#9c9c90"/>
<rect x="404" y="84" width="3" height="8" fill="#8c2219"/>
<rect x="405" y="85" width="1" height="6" fill="#bb3a2e"/>
<rect x="407" y="88" width="1" height="24" fill="#9c9c90"/>
<rect x="406" y="92" width="3" height="19" fill="#8c2219"/>
<rect x="407" y="93" width="1" height="17" fill="#bb3a2e"/>
<rect x="409" y="110" width="1" height="39" fill="#9c9c90"/>
<rect x="408" y="111" width="3" height="37" fill="#8c2219"/>
<rect x="409" y="112" width="1" height="35" fill="#bb3a2e"/>
<rect x="411" y="139" width="1" height="58" fill="#9c9c90"/>
<rect x="410" y="148" width="3" height="34" fill="#8c2219"/>
<rect x="411" y="149" width="1" height="32" fill="#bb3a2e"/>
<rect x="413" y="156" width="1" height="27" fill="#9c9c90"/>
<rect x="412" y="162" width="3" height="20" fill="#2a6a48"/>
<rect x="413" y="163" width="1" height="18" fill="#4f9d74"/>
<rect x="415" y="161" width="1" height="11" fill="#9c9c90"/>
<rect x="414" y="163" width="3" height="6" fill="#8c2219"/>
<rect x="415" y="164" width="1" height="4" fill="#bb3a2e"/>
<rect x="417" y="159" width="1" height="11" fill="#9c9c90"/>
<rect x="416" y="165" width="3" height="1" fill="#7a7a70"/>
<rect x="418" y="159" width="1" height="22" fill="#9c9c90"/>
<rect x="417" y="169" width="3" height="10" fill="#8c2219"/>
<rect x="418" y="170" width="1" height="8" fill="#bb3a2e"/>
<rect x="420" y="161" width="1" height="18" fill="#9c9c90"/>
<rect x="419" y="164" width="3" height="15" fill="#2a6a48"/>
<rect x="420" y="165" width="1" height="13" fill="#4f9d74"/>
<rect x="422" y="160" width="1" height="7" fill="#9c9c90"/>
<rect x="421" y="162" width="3" height="3" fill="#2a6a48"/>
<rect x="422" y="163" width="1" height="1" fill="#4f9d74"/>
<rect x="424" y="128" width="1" height="35" fill="#9c9c90"/>
<rect x="423" y="145" width="3" height="17" fill="#2a6a48"/>
<rect x="424" y="146" width="1" height="15" fill="#4f9d74"/>
<rect x="426" y="128" width="1" height="24" fill="#9c9c90"/>
<rect x="425" y="146" width="3" height="1" fill="#7a7a70"/>
<rect x="428" y="136" width="1" height="16" fill="#9c9c90"/>
<rect x="427" y="146" width="3" height="1" fill="#7a7a70"/>
<rect x="430" y="142" width="1" height="43" fill="#9c9c90"/>
<rect x="429" y="145" width="3" height="35" fill="#8c2219"/>
<rect x="430" y="146" width="1" height="33" fill="#bb3a2e"/>
<rect x="432" y="179" width="1" height="29" fill="#9c9c90"/>
<rect x="431" y="180" width="3" height="27" fill="#8c2219"/>
<rect x="432" y="181" width="1" height="25" fill="#bb3a2e"/>
<rect x="434" y="206" width="1" height="19" fill="#9c9c90"/>
<rect x="433" y="207" width="3" height="2" fill="#8c2219"/>
<rect x="436" y="207" width="1" height="7" fill="#9c9c90"/>
<rect x="435" y="208" width="3" height="3" fill="#2a6a48"/>
<rect x="436" y="209" width="1" height="1" fill="#4f9d74"/>
<rect x="438" y="207" width="1" height="30" fill="#9c9c90"/>
<rect x="437" y="211" width="3" height="3" fill="#8c2219"/>
<rect x="438" y="212" width="1" height="1" fill="#bb3a2e"/>
<rect x="440" y="210" width="1" height="6" fill="#9c9c90"/>
<rect x="439" y="212" width="3" height="3" fill="#8c2219"/>
<rect x="440" y="213" width="1" height="1" fill="#bb3a2e"/>
<rect x="442" y="190" width="1" height="26" fill="#9c9c90"/>
<rect x="441" y="190" width="3" height="25" fill="#2a6a48"/>
<rect x="442" y="191" width="1" height="23" fill="#4f9d74"/>
<rect x="443" y="189" width="1" height="12" fill="#9c9c90"/>
<rect x="442" y="190" width="3" height="11" fill="#2a6a48"/>
<rect x="443" y="191" width="1" height="9" fill="#4f9d74"/>
<rect x="445" y="189" width="1" height="20" fill="#9c9c90"/>
<rect x="444" y="190" width="3" height="11" fill="#8c2219"/>
<rect x="445" y="191" width="1" height="9" fill="#bb3a2e"/>
<rect x="447" y="197" width="1" height="12" fill="#9c9c90"/>
<rect x="446" y="200" width="3" height="1" fill="#7a7a70"/>
<rect x="449" y="191" width="1" height="49" fill="#9c9c90"/>
<rect x="448" y="192" width="3" height="41" fill="#8c2219"/>
<rect x="449" y="193" width="1" height="39" fill="#bb3a2e"/>
<rect x="451" y="208" width="1" height="48" fill="#9c9c90"/>
<rect x="450" y="210" width="3" height="24" fill="#2a6a48"/>
<rect x="451" y="211" width="1" height="22" fill="#4f9d74"/>
<rect x="453" y="203" width="1" height="16" fill="#9c9c90"/>
<rect x="452" y="210" width="3" height="1" fill="#7a7a70"/>
<rect x="455" y="184" width="1" height="27" fill="#9c9c90"/>
<rect x="454" y="188" width="3" height="23" fill="#2a6a48"/>
<rect x="455" y="189" width="1" height="21" fill="#4f9d74"/>
<rect x="457" y="181" width="1" height="14" fill="#9c9c90"/>
<rect x="456" y="188" width="3" height="6" fill="#8c2219"/>
<rect x="457" y="189" width="1" height="4" fill="#bb3a2e"/>
<rect x="459" y="186" width="1" height="16" fill="#9c9c90"/>
<rect x="458" y="188" width="3" height="6" fill="#2a6a48"/>
<rect x="459" y="189" width="1" height="4" fill="#4f9d74"/>
<rect x="461" y="180" width="1" height="15" fill="#9c9c90"/>
<rect x="460" y="185" width="3" height="4" fill="#2a6a48"/>
<rect x="461" y="186" width="1" height="2" fill="#4f9d74"/>
<rect x="462" y="180" width="1" height="15" fill="#9c9c90"/>
<rect x="461" y="184" width="3" height="3" fill="#2a6a48"/>
<rect x="462" y="185" width="1" height="1" fill="#4f9d74"/>
<rect x="464" y="182" width="1" height="8" fill="#9c9c90"/>
<rect x="463" y="184" width="3" height="5" fill="#8c2219"/>
<rect x="464" y="185" width="1" height="3" fill="#bb3a2e"/>
<rect x="466" y="184" width="1" height="7" fill="#9c9c90"/>
<rect x="465" y="186" width="3" height="3" fill="#8c2219"/>
<rect x="466" y="187" width="1" height="1" fill="#bb3a2e"/>
<rect x="468" y="187" width="1" height="6" fill="#9c9c90"/>
<rect x="467" y="189" width="3" height="2" fill="#8c2219"/>
<rect x="470" y="171" width="1" height="21" fill="#9c9c90"/>
<rect x="469" y="178" width="3" height="13" fill="#2a6a48"/>
<rect x="470" y="179" width="1" height="11" fill="#4f9d74"/>
<rect x="472" y="175" width="1" height="5" fill="#9c9c90"/>
<rect x="471" y="177" width="3" height="1" fill="#2a6a48"/>
<rect x="474" y="167" width="1" height="28" fill="#9c9c90"/>
<rect x="473" y="177" width="3" height="4" fill="#8c2219"/>
<rect x="474" y="178" width="1" height="2" fill="#bb3a2e"/>
<rect x="476" y="173" width="1" height="8" fill="#9c9c90"/>
<rect x="475" y="178" width="3" height="1" fill="#7a7a70"/>
<rect x="477" y="166" width="1" height="15" fill="#9c9c90"/>
<rect x="476" y="172" width="3" height="8" fill="#2a6a48"/>
<rect x="477" y="173" width="1" height="6" fill="#4f9d74"/>
<rect x="478" y="158" width="1" height="16" fill="#9c9c90"/>
<rect x="477" y="161" width="3" height="12" fill="#2a6a48"/>
<rect x="478" y="162" width="1" height="10" fill="#4f9d74"/>
<rect x="481" y="159" width="1" height="14" fill="#9c9c90"/>
<rect x="480" y="161" width="3" height="11" fill="#8c2219"/>
<rect x="481" y="162" width="1" height="9" fill="#bb3a2e"/>
<rect x="483" y="164" width="1" height="9" fill="#9c9c90"/>
<rect x="482" y="167" width="3" height="5" fill="#2a6a48"/>
<rect x="483" y="168" width="1" height="3" fill="#4f9d74"/>
<rect x="485" y="164" width="1" height="8" fill="#9c9c90"/>
<rect x="484" y="167" width="3" height="4" fill="#8c2219"/>
<rect x="485" y="168" width="1" height="2" fill="#bb3a2e"/>
<rect x="487" y="170" width="1" height="14" fill="#9c9c90"/>
<rect x="486" y="171" width="3" height="12" fill="#8c2219"/>
<rect x="487" y="172" width="1" height="10" fill="#bb3a2e"/>
<rect x="489" y="180" width="1" height="11" fill="#9c9c90"/>
<rect x="488" y="183" width="3" height="8" fill="#8c2219"/>
<rect x="489" y="184" width="1" height="6" fill="#bb3a2e"/>
<rect x="490" y="238" width="1" height="54" fill="#9c9c90"/>
<rect x="489" y="252" width="3" height="6" fill="#8c2219"/>
<rect x="490" y="253" width="1" height="4" fill="#bb3a2e"/>
<rect x="493" y="235" width="1" height="24" fill="#9c9c90"/>
<rect x="492" y="237" width="3" height="21" fill="#2a6a48"/>
<rect x="493" y="238" width="1" height="19" fill="#4f9d74"/>
<rect x="495" y="234" width="1" height="17" fill="#9c9c90"/>
<rect x="494" y="237" width="3" height="13" fill="#8c2219"/>
<rect x="495" y="238" width="1" height="11" fill="#bb3a2e"/>
<rect x="497" y="246" width="1" height="32" fill="#9c9c90"/>
<rect x="496" y="250" width="3" height="10" fill="#8c2219"/>
<rect x="497" y="251" width="1" height="8" fill="#bb3a2e"/>
<rect x="498" y="254" width="1" height="8" fill="#9c9c90"/>
<rect x="497" y="256" width="3" height="5" fill="#2a6a48"/>
<rect x="498" y="257" width="1" height="3" fill="#4f9d74"/>
<rect x="0" y="118" width="626" height="1" fill="#cc3f8e"/>
<rect x="0" y="267" width="626" height="1" fill="#b150c8"/>
<rect x="0" y="256.9" width="625" height="1.6" fill="#10309c" shape-rendering="auto"/>
<rect x="0" y="346" width="626" height="2" fill="#10309c"/>
<rect x="0" y="255" width="625" height="1" fill="#f7f4cc"/>
<line x1="0" y1="256.5" x2="625" y2="256.5" stroke="#5a9486" stroke-width="1" stroke-dasharray="1 1.4"/>
<g shape-rendering="auto" stroke="#8a1c2a" stroke-width="2" stroke-linecap="round">
<line x1="391.3" y1="50.4" x2="609.2" y2="313.2"/>
<line x1="370.9" y1="161.2" x2="572.8" y2="405"/>
</g>
<rect x="626" y="0" width="1" height="431" fill="#6e6e68"/>
<rect x="0" y="405" width="680" height="1" fill="#8c8c76"/>
<rect x="0" y="406" width="680" height="1" fill="#a4a490"/>
<g font-family="Liberation Sans, sans-serif" font-size="12" letter-spacing="-0.3" fill="#4f4f4f" stroke="#4f4f4f" stroke-width="0.1" shape-rendering="auto">
<text x="635" y="-1">3,475.0</text>
<text x="635" y="34">3,450.0</text>
<text x="635" y="67">3,425.0</text>
<text x="635" y="100">3,400.0</text>
<text x="635" y="133">3,375.0</text>
<text x="635" y="166">3,350.0</text>
<text x="635" y="199">3,325.0</text>
<text x="635" y="232">3,300.0</text>
<text x="635" y="298">3,250.0</text>
<text x="635" y="331">3,225.0</text>
<text x="635" y="364">3,200.0</text>
<text x="635" y="397">3,175.0</text>
</g>
<path d="M627 248h47a2 2 0 0 1 2 2v15h-49z" fill="#61a07a" shape-rendering="auto"/>
<text x="635" y="260.1" font-family="Liberation Sans, sans-serif" font-size="12" letter-spacing="-0.3" fill="#ffffff" stroke="#ffffff" stroke-width="0.2">3,279.1</text>
<path d="M627 265h49v13a2 2 0 0 1 -2 2h-47z" fill="#0f2f9e" shape-rendering="auto"/>
<text x="635" y="276.1" font-family="Liberation Sans, sans-serif" font-size="12" letter-spacing="-0.3" fill="#ffffff" stroke="#ffffff" stroke-width="0.2">3,277.6</text>
<path d="M627 339h47a2 2 0 0 1 2 2v12a2 2 0 0 1 -2 2h-47z" fill="#0f2f9e" shape-rendering="auto"/>
<text x="635" y="350.6" font-family="Liberation Sans, sans-serif" font-size="12" letter-spacing="-0.3" fill="#ffffff" stroke="#ffffff" stroke-width="0.2">3,209.7</text>
<g font-family="Liberation Sans, sans-serif" font-size="11" fill="#444444" stroke="#444444" stroke-width="0.2" text-anchor="middle" shape-rendering="auto">
<text x="58.5" y="422">29</text>
<text x="250.5" y="422">5</text>
<text x="346.5" y="422">7</text>
<text x="442.5" y="422">9</text>
<text x="538.5" y="422">13</text>
<text x="154.5" y="422" font-weight="bold">May</text>
</g>
<g fill="none" stroke="#383838" stroke-width="1.25" shape-rendering="auto">
<path d="M648.5 419 L651.5 414.5 H657.5 L660.5 419 L657.5 423.5 H651.5 Z"/>
<circle cx="654.3" cy="419.1" r="1.8"/>
</g>
</svg>
</body></html>
